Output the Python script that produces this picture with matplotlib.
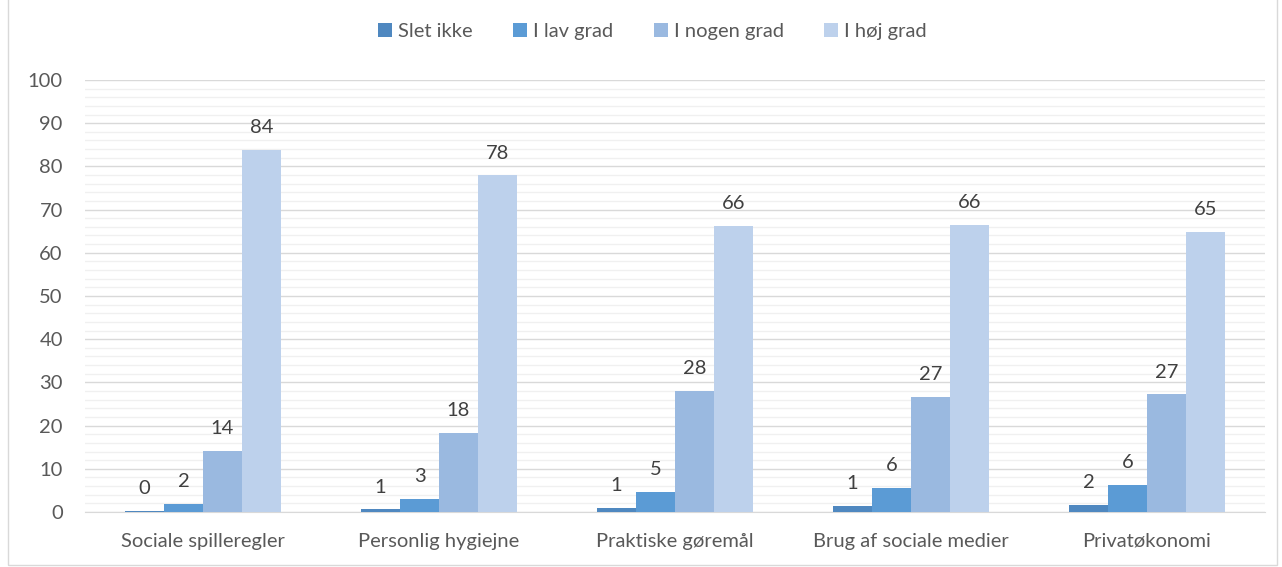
import matplotlib.pyplot as plt
import numpy as np

categories = ["Sociale spilleregler", "Personlig hygiejne", "Praktiske gøremål",
              "Brug af sociale medier", "Privatøkonomi"]
series_names = ["Slet ikke", "I lav grad", "I nogen grad", "I høj grad"]
slet_ikke = [0.2, 0.6, 0.9, 1.4, 1.7]
lav_grad = [1.8, 3.0, 4.7, 5.6, 6.3]
nogen_grad = [14.2, 18.4, 28.1, 26.6, 27.2]
hoej_grad = [83.8, 77.9, 66.3, 66.4, 64.8]

colors = ["#4f88c0", "#5b9bd5", "#9ab9e0", "#bdd1ec"]
txt = "#595959"

plt.rcParams['font.family'] = ['Lato', 'DejaVu Sans']

fig = plt.figure(figsize=(12.82, 5.67), dpi=100)
ax = fig.add_axes([0.0663, 0.097, 0.9204, 0.762])

x = np.arange(len(categories))
w = 0.165
all_series = [slet_ikke, lav_grad, nogen_grad, hoej_grad]
for i, (name, vals) in enumerate(zip(series_names, all_series)):
    pos = x + (i - 1.5) * w
    ax.bar(pos, vals, width=w, color=colors[i], label=name, zorder=3)
    for p, v in zip(pos, vals):
        ax.annotate(f"{v:.0f}", (p, v), xytext=(0, 10), textcoords="offset points",
                    ha="center", va="bottom", fontsize=14.5, color="#404040")

ax.set_xlim(-0.5, len(categories) - 0.5)
ax.set_ylim(0, 100)
ax.set_yticks(range(0, 101, 10))
ax.set_yticks(range(0, 101, 2), minor=True)
ax.grid(axis="y", which="major", color="#d9d9d9", lw=1, zorder=0)
ax.grid(axis="y", which="minor", color="#f0f0f0", lw=1, zorder=0)
ax.set_xticks(x)
ax.set_xticklabels(categories)
ax.tick_params(axis="both", which="both", length=0, labelsize=14.5, colors=txt)
ax.tick_params(axis="y", pad=16)
ax.tick_params(axis="x", pad=15)
for s in ["top", "right", "left"]:
    ax.spines[s].set_visible(False)
ax.spines["bottom"].set_color("#d9d9d9")

fig.legend(loc="center", bbox_to_anchor=(0.509, 0.945), ncol=4, frameon=False,
           fontsize=14.5, labelcolor=txt, handlelength=0.7, handleheight=0.7,
           handletextpad=0.3, columnspacing=2.0)

fig.patches.append(plt.Rectangle((0.006, 0.003), 0.99, 1.2, transform=fig.transFigure,
                                 fill=False, edgecolor="#d9d9d9", lw=1))

fig.savefig("out.png", dpi=100)
